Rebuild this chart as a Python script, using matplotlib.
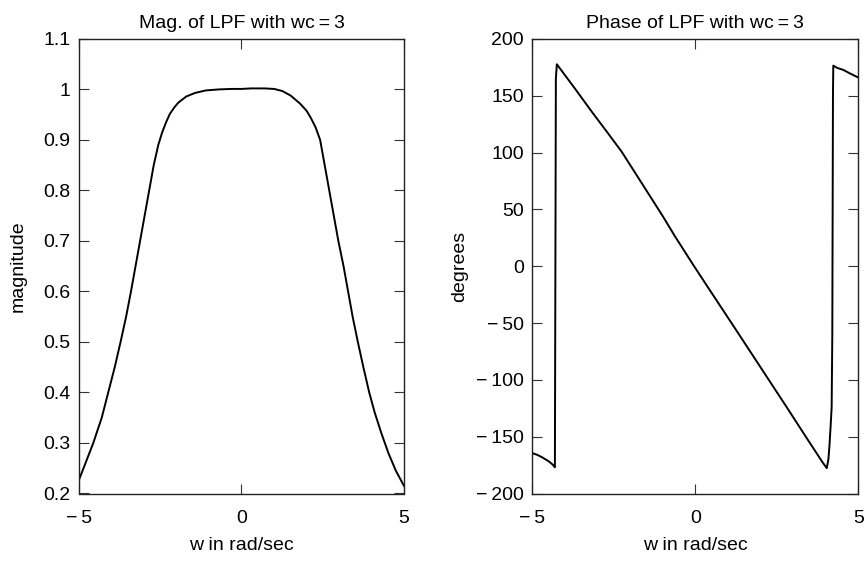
import numpy as np
import matplotlib
matplotlib.use('Agg')
import matplotlib.pyplot as plt
from matplotlib.ticker import FuncFormatter

plt.rcParams['font.family'] = ['Liberation Sans', 'DejaVu Sans']

# magnitude of the LPF
w_mag = [-5.0, -4.8, -4.56, -4.3, -4.1, -3.9, -3.72, -3.55, -3.40, -3.26, -3.12,
         -2.98, -2.84, -2.70, -2.56, -2.44, -2.32, -2.20, -2.06, -1.94, -1.70,
         -1.43, -1.1, -0.7, -0.3, 0.0, 0.3, 0.7, 1.0, 1.25, 1.51, 1.8, 2.0,
         2.13, 2.28, 2.42, 2.56, 2.70, 2.84, 2.98, 3.14, 3.28, 3.42, 3.58, 3.75,
         3.93, 4.1, 4.3, 4.52, 4.75, 5.0]
mag = [0.227, 0.26, 0.30, 0.35, 0.40, 0.45, 0.50, 0.55, 0.60, 0.65, 0.70,
       0.75, 0.80, 0.85, 0.89, 0.915, 0.935, 0.952, 0.965, 0.974, 0.986,
       0.993, 0.998, 1.0, 1.001, 1.001, 1.002, 1.002, 1.001, 0.997, 0.988,
       0.972, 0.958, 0.944, 0.925, 0.90, 0.85, 0.80, 0.75, 0.70, 0.65, 0.60,
       0.55, 0.50, 0.45, 0.40, 0.36, 0.32, 0.28, 0.245, 0.215]

# phase in degrees
w_ph = [-5.0, -4.85, -4.71, -4.51, -4.38, -4.31, -4.28, -4.25, -3.7, -3.18,
        -2.7, -2.26, -1.6, -1.0, -0.62, -0.06, 0.45, 1.2, 2.0, 2.8, 3.5, 3.9,
        4.03, 4.08, 4.11, 4.15, 4.18, 4.2, 4.22, 4.23, 4.35, 4.54, 4.75, 5.0]
phase = [-164.5, -166, -168, -171.5, -174.5, -177, 165, 177.7, 156.5, 136,
         117.7, 100.7, 71, 44, 26, 0.9, -21.4, -54, -89, -124, -155, -172.5,
         -177.7, -170, -159, -140, -124, -60, 150, 176.5, 174.5, 172.7, 169.5, 166]

FS = 14


def matlab_fmt(v, pos):
    s = '%g' % round(v, 6)
    if s.startswith('-'):
        s = '\u2212\u2009' + s[1:]
    return s


fig = plt.figure(figsize=(8.64, 5.64), dpi=100)
ax1 = fig.add_axes([0.0914, 0.125, 0.3762, 0.806])
ax2 = fig.add_axes([0.6162, 0.125, 0.3773, 0.806])

ax1.plot(w_mag, mag, color='black', lw=1.4)
ax1.set_xlim(-5, 5)
ax1.set_ylim(0.2, 1.1)
ax1.set_xticks([-5, 0, 5])
ax1.set_yticks(np.arange(0.2, 1.11, 0.1))
ax1.set_title('Mag. of LPF with wc\u2009=\u20093', fontsize=FS, pad=8)
ax1.set_xlabel('w in rad/sec', fontsize=FS, labelpad=7)
ax1.set_ylabel('magnitude', fontsize=FS, labelpad=12)

ax2.plot(w_ph, phase, color='black', lw=1.4)
ax2.set_xlim(-5, 5)
ax2.set_ylim(-200, 200)
ax2.set_xticks([-5, 0, 5])
ax2.set_yticks(np.arange(-200, 201, 50))
ax2.set_title('Phase of LPF with wc\u2009=\u20093', fontsize=FS, pad=8)
ax2.set_xlabel('w in rad/sec', fontsize=FS, labelpad=7)
ax2.set_ylabel('degrees', fontsize=FS, labelpad=6)

for ax in (ax1, ax2):
    ax.xaxis.set_major_formatter(FuncFormatter(matlab_fmt))
    ax.yaxis.set_major_formatter(FuncFormatter(matlab_fmt))
    ax.tick_params(direction='in', top=True, right=True, length=7, width=0.8,
                   labelsize=FS, color='#333333')
    ax.tick_params(axis='y', pad=6)
    ax.tick_params(axis='x', pad=12)
    for sp in ax.spines.values():
        sp.set_linewidth(1.0)
        sp.set_color('#222222')

fig.savefig('out.png', dpi=100)
